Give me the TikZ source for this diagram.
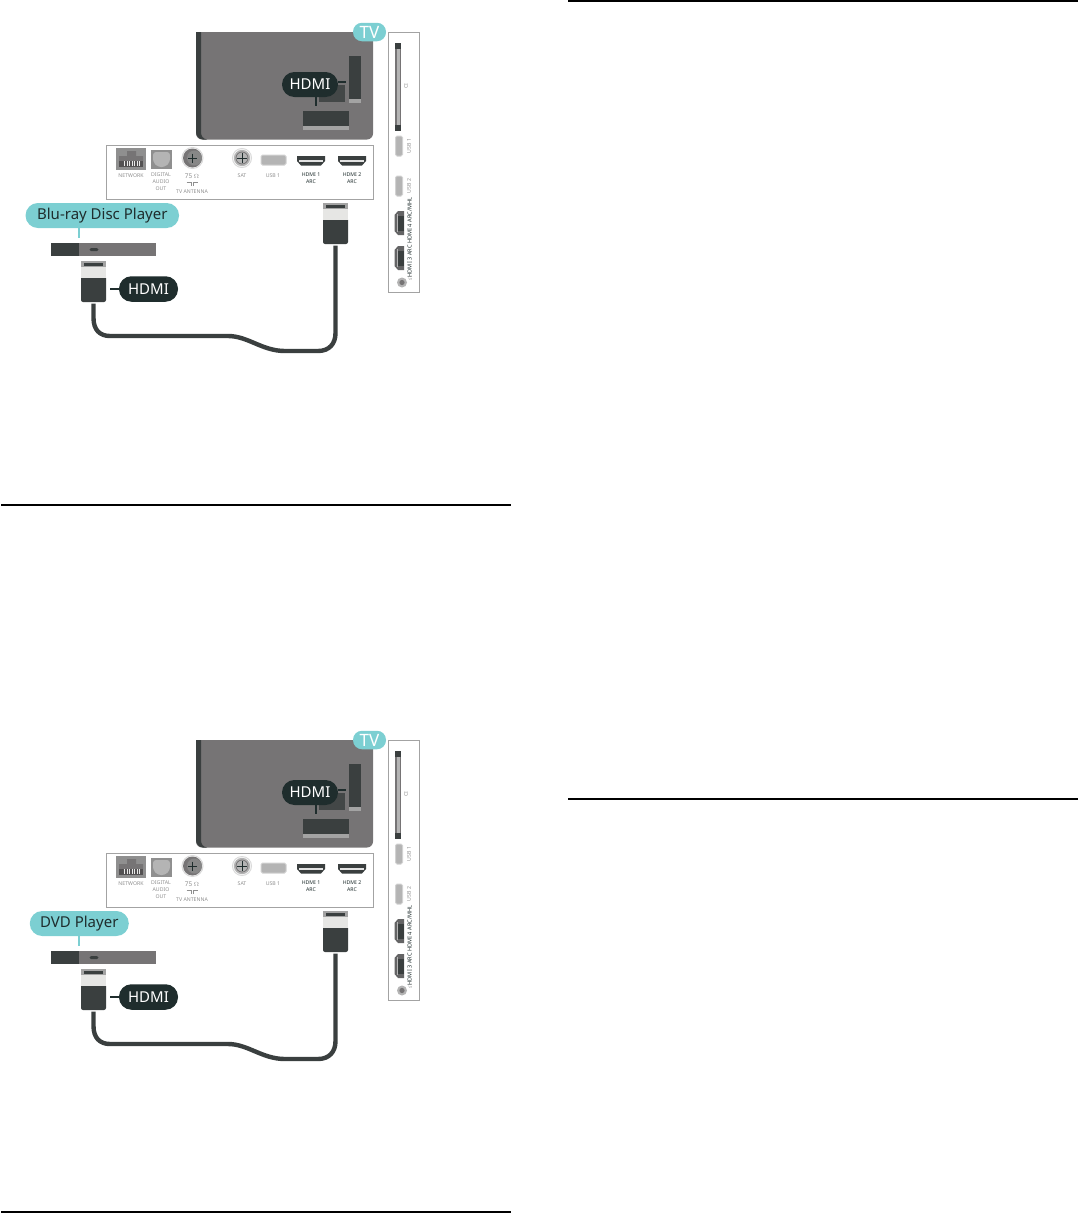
\documentclass[tikz,border=0pt]{standalone}
\usepackage{fontspec}
\setmainfont{Noto Sans}
\usepackage{xcolor}
\usetikzlibrary{positioning,calc}
\definecolor{PanelGray}{HTML}{767475}
\definecolor{PlugDark}{HTML}{3A3F3F}
\definecolor{PillDark}{HTML}{1F2D2D}
\definecolor{PillTeal}{HTML}{7CCFD2}
\definecolor{EdgeGray}{HTML}{A3A3A3}
\definecolor{PortGray}{HTML}{B4B4B4}
\definecolor{PlugLight}{HTML}{E6E6E4}
\definecolor{TinyGray}{HTML}{8F8F8F}
\tikzset{
  darkpill/.style={fill=PillDark,rounded corners=12.4pt,text=white,inner sep=0pt,
    font=\fontsize{15}{18}\selectfont},
  tealpill/.style={fill=PillTeal,rounded corners=12.4pt,text=PillDark,inner sep=0pt,
    font=\fontsize{15}{18}\selectfont},
  tinylabel/.style={text=TinyGray,inner sep=0pt,align=center,font=\fontsize{5.2}{7}\selectfont},
  tinybold/.style={text=PillDark,inner sep=0pt,align=center,font=\fontsize{5.2}{7}\selectfont\bfseries},
  panelbox/.style={draw=EdgeGray,fill=white,line width=1pt},
  cable/.style={draw=PlugDark,line width=4.4pt,line cap=butt},
  stub/.style={draw=PillDark,line width=1.2pt},
  tealstub/.style={draw=PillTeal,line width=1.2pt},
  rulebar/.style={draw=black,line width=2pt}
}
\begin{document}
\begin{tikzpicture}[x=1pt,y=-1pt]
  \useasboundingbox (0,0) rectangle (1078,1213);

  \draw[rulebar] (568,1) -- (1078,1);
  \draw[rulebar] (568,799) -- (1078,799);

  \foreach \k/\dy/\player/\pillw/\pillx in {a/0/Blu-ray Disc Player/153.5/102.3,b/708/DVD Player/99/79.3}{
  \begin{scope}[yshift=-\dy pt]
    % tv back
    \fill[PanelGray] (196,32) -- (373,32) [rounded corners=6pt] -- (373,139.5) -- (196,139.5) [sharp corners] -- cycle;
    \fill[PlugDark] (196,32) -- (201,32) -- (201,132) .. controls (201,136) and (203,139) .. (207,139.5) -- (203,139.5) .. controls (199,139.5) and (196,136) .. (196,132) -- cycle;
    \fill[PlugDark] (349,56) rectangle (361,99);
    \fill[EdgeGray] (349,99) rectangle (361,103);
    \fill[PlugDark!85!PanelGray] (319,85) rectangle (345,102);
    \fill[PlugDark] (303,111) rectangle (349,126);
    \fill[EdgeGray] (303,126) rectangle (349,130);
    \node[tealpill,minimum width=33pt,minimum height=18.5pt,rounded corners=9pt,
      font=\fontsize{17}{18}\selectfont\bfseries,text=white] (tvpill\k) at (369.5,32) {TV};
    \node[darkpill,minimum width=56pt,minimum height=25pt] (tvhdmi\k) at (310,84.5) {HDMI};
    \coordinate (tvrear\k) at (346,82);
    \coordinate (tvbase\k) at (316,106);
    \draw[stub] (tvhdmi\k.east |- tvrear\k) -- (tvrear\k);
    \draw[stub] (tvbase\k |- tvhdmi\k.south) -- (tvbase\k);

    % rear connector strip
    \node[panelbox,minimum width=267pt,minimum height=54pt,inner sep=0pt] (rearstrip\k) at (239.5,172) {};
    \fill[TinyGray] (116,148) rectangle (146,170);
    \fill[PanelGray] (119,161) -- (119,156) -- (127,156) -- (127,151) -- (136,151) -- (136,156) -- (143,156) -- (143,161) -- cycle;
    \fill[PanelGray!70!black] (119,161) rectangle (143,167);
    \foreach \bx in {124,126.5,...,139}{\fill[white!80!TinyGray] (\bx,161) rectangle (\bx+1,166);}
    \fill[TinyGray] (151,150) rectangle (172,169);
    \fill[PortGray,rounded corners=3pt] (153,152) -- (170,152) -- (170,162) -- (165,167) -- (158,167) -- (153,162) -- cycle;
    \draw[PortGray!50!white,line width=1pt] (192.5,158) circle (10.5pt);
    \fill[PanelGray] (192.5,158) circle (9.5pt);
    \fill[TinyGray!70!PanelGray] (194.5,158) circle (7.5pt);
    \draw[PillDark,line width=.7pt] (188,158) -- (197,158) (192.5,153.5) -- (192.5,162.5);
    \draw[PortGray!50!white,line width=1pt] (242,158) circle (9.5pt);
    \fill[PortGray] (242,158) circle (8.2pt);
    \draw[PanelGray,line width=.8pt] (242,158) circle (6pt);
    \draw[PillDark,line width=.7pt] (237,158) -- (247,158) (242,153) -- (242,163);
    \draw[PortGray!60!white,fill=PortGray,line width=1pt,rounded corners=1.5pt] (261,155) rectangle (286,165);
    \foreach \hx in {311,352}{
      \fill[PlugDark] (\hx-14,156) -- (\hx+14,156) -- (\hx+14,161) -- (\hx+10,165.5) -- (\hx-10,165.5) -- (\hx-14,161) -- cycle;
      \fill[white!75!TinyGray] (\hx-12,160) rectangle (\hx+12,161.5);
    }
    \node[tinylabel] (netlabel\k) at (131,176) {NETWORK};
    \node[tinylabel,anchor=north] (optlabel\k) at (161,173) {DIGITAL\\AUDIO\\OUT};
    \node[tinylabel,font=\fontsize{6.5}{7}\selectfont] (ohmlabel\k) at (192,176.5) {75 $\Omega$};
    \draw[TinyGray,line width=.7pt] (186.5,182) -- (191,182) -- (191,186) (193.5,186) -- (193.5,182) -- (198,182);
    \node[tinylabel] (antlabel\k) at (192,192) {TV ANTENNA};
    \node[tinylabel] (satlabel\k) at (242,176) {SAT};
    \node[tinylabel] (usblabel\k) at (273,176) {USB 1};
    \node[tinybold,anchor=north] (hdmione\k) at (311,173) {HDMI 1\\ARC};
    \node[tinybold,anchor=north] (hdmitwo\k) at (352,173) {HDMI 2\\ARC};

    % side connector strip
    \node[panelbox,minimum width=31pt,minimum height=260pt,inner sep=0pt] (sidestrip\k) at (403.5,162) {};
    \fill[PanelGray] (394.5,43) rectangle (401,131);
    \fill[PortGray] (396.5,49) rectangle (400,125);
    \fill[PlugDark] (394.5,43) rectangle (401,49);
    \fill[PlugDark] (394.5,125) rectangle (401,131);
    \draw[PortGray!60!white,fill=PortGray,line width=1pt,rounded corners=1.5pt] (395.5,136) rectangle (402.5,156);
    \draw[PortGray!60!white,fill=PortGray,line width=1pt,rounded corners=1.5pt] (395.5,176) rectangle (402.5,196);
    \foreach \hy in {223,258}{
      \fill[PanelGray!70!PlugDark] (398,\hy-12) -- (394.5,\hy-8) -- (394.5,\hy+8) -- (398,\hy+12) -- (404,\hy+12) -- (404,\hy-12) -- cycle;
      \fill[PlugDark] (397.5,\hy-7) rectangle (404,\hy+8);
      \fill[PortGray] (396.5,\hy-9) rectangle (397.7,\hy+9);
    }
    \fill[PortGray] (402,282.5) circle (5pt);
    \fill[PanelGray] (402,282.5) circle (2.6pt);
    \node[tinylabel,rotate=90] (cilabel\k) at (406,86) {CI};
    \node[tinylabel,rotate=90] (usbtwo\k) at (409,146) {USB 1};
    \node[tinylabel,rotate=90] (usbthree\k) at (409,186) {USB 2};
    \node[tinybold,rotate=90,font=\fontsize{5.6}{6}\selectfont\bfseries] (sidehdmi\k) at (409.5,237.5) {HDMI 3 ARC HDMI 4 ARC/MHL};
    \node[tinylabel,rotate=90] (jacklabel\k) at (410.5,278) {$\Omega$};

    % player with its plug
    \node[tealpill,minimum width=\pillw pt,minimum height=25pt] (player\k) at (\pillx,215.5) {\player};
    \node[fill=PanelGray,minimum width=105pt,minimum height=13pt,inner sep=0pt] (deck\k) at (103.5,249.5) {};
    \fill[PlugDark] (51,243) rectangle (79,256);
    \fill[PlugDark,rounded corners=1.5pt] (89.5,248) rectangle (98.5,251);
    \coordinate (deckjoin\k) at (79,238);
    \draw[tealstub] (deckjoin\k |- player\k.south) -- (deckjoin\k);

    \foreach \px/\py/\pl in {81/261/low,323/203/high}{
      \fill[PlugDark,rounded corners=2pt] (\px,\py+15) rectangle (\px+25,\py+41);
      \fill[PlugDark] (\px,\py+17) rectangle (\px+25,\py+30);
      \fill[PlugLight] (\px,\py+6) rectangle (\px+25,\py+17);
      \fill[EdgeGray] (\px,\py) rectangle (\px+25,\py+6);
      \fill[PlugDark] (\px+3,\py+2) rectangle (\px+22,\py+4.5);
      \coordinate (plug\pl\k) at (\px+12.5,\py+42.5);
    }
    \node[darkpill,minimum width=59pt,minimum height=25.5pt] (plughdmi\k) at (148.5,289) {HDMI};
    \coordinate (plugtail\k) at (110,289);
    \draw[stub] (plughdmi\k.west) -- (plugtail\k);
    \draw[cable] (pluglow\k) -- (93.5,318)
      .. controls (93.5,330) and (100,336) .. (110,336) -- (228,336)
      .. controls (248,336) and (262,351) .. (285,351) -- (318,351)
      .. controls (329,351) and (335.5,344) .. (335.5,333) -- (plughigh\k);
  \end{scope}
  }

  \draw[rulebar] (1,505) -- (511,505);
  \draw[rulebar] (1,1212) -- (511,1212);
\end{tikzpicture}
\end{document}
